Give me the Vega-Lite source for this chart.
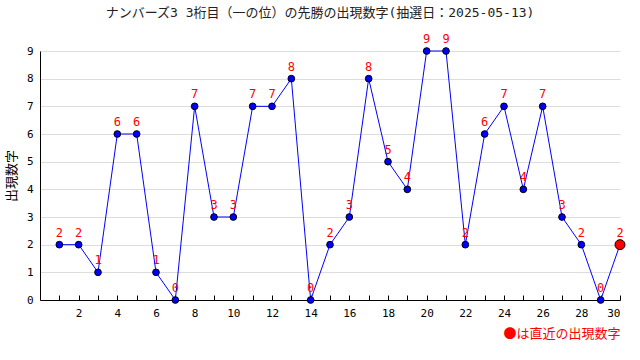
{
  "$schema": "https://vega.github.io/schema/vega-lite/v6.json",
  "width": 580,
  "height": 249,
  "autosize": "none",
  "padding": {"left": 40, "top": 51, "right": 20, "bottom": 60},
  "background": "white",
  "title": {
    "text": "ナンバーズ3 3桁目（一の位）の先勝の出現数字(抽選日：2025-05-13)",
    "font": "DejaVu Sans Mono, Noto Sans CJK JP",
    "fontSize": 13,
    "fontWeight": "normal",
    "color": "#222222",
    "anchor": "middle",
    "baseline": "bottom",
    "offset": 14,
    "dy": 14,
    "dx": -10
  },
  "data": {
    "values": [
      {"n": 1, "v": 2}, {"n": 2, "v": 2}, {"n": 3, "v": 1}, {"n": 4, "v": 6},
      {"n": 5, "v": 6}, {"n": 6, "v": 1}, {"n": 7, "v": 0}, {"n": 8, "v": 7},
      {"n": 9, "v": 3}, {"n": 10, "v": 3}, {"n": 11, "v": 7}, {"n": 12, "v": 7},
      {"n": 13, "v": 8}, {"n": 14, "v": 0}, {"n": 15, "v": 2}, {"n": 16, "v": 3},
      {"n": 17, "v": 8}, {"n": 18, "v": 5}, {"n": 19, "v": 4}, {"n": 20, "v": 9},
      {"n": 21, "v": 9}, {"n": 22, "v": 2}, {"n": 23, "v": 6}, {"n": 24, "v": 7},
      {"n": 25, "v": 4}, {"n": 26, "v": 7}, {"n": 27, "v": 3}, {"n": 28, "v": 2},
      {"n": 29, "v": 0}, {"n": 30, "v": 2}
    ]
  },
  "encoding": {
    "x": {
      "field": "n",
      "type": "quantitative",
      "scale": {"domain": [0, 30], "nice": false, "zero": false},
      "axis": {
        "values": [1,2,3,4,5,6,7,8,9,10,11,12,13,14,15,16,17,18,19,20,21,22,23,24,25,26,27,28,29,30],
        "labelExpr": "datum.value % 2 == 0 ? datum.label : ''",
        "grid": false,
        "tickSize": -5,
        "tickColor": "black",
        "domainColor": "black",
        "labelColor": "black",
        "labelFont": "DejaVu Sans Mono",
        "labelFontSize": 11,
        "labelPadding": 12,
        "title": "●は直近の出現数字",
        "titleColor": "#ff0000",
        "titleAnchor": "end",
        "titleFont": "Noto Sans CJK JP",
        "titleFontWeight": "normal",
        "titleFontSize": 13,
        "titlePadding": 9
      }
    },
    "y": {
      "field": "v",
      "type": "quantitative",
      "scale": {"domain": [0, 9], "nice": false},
      "axis": {
        "values": [0,1,2,3,4,5,6,7,8,9],
        "grid": true,
        "gridColor": "#dddddd",
        "tickSize": 0,
        "domainColor": "black",
        "labelColor": "black",
        "labelFont": "DejaVu Sans Mono",
        "labelFontSize": 11,
        "labelPadding": 7,
        "title": "出現数字",
        "titleColor": "black",
        "titleFont": "Noto Sans CJK JP",
        "titleFontWeight": "normal",
        "titleFontSize": 13,
        "titlePadding": 8
      }
    }
  },
  "layer": [
    {"mark": {"type": "line", "color": "#0000ff", "strokeWidth": 1}},
    {"mark": {"type": "point", "shape": "circle", "filled": true, "fill": "#0000ff", "stroke": "black", "strokeWidth": 1, "size": 45, "opacity": 1}},
    {
      "transform": [{"filter": "datum.n == 30"}],
      "mark": {"type": "point", "shape": "circle", "filled": true, "fill": "#ff0000", "stroke": "black", "strokeWidth": 1, "size": 100, "opacity": 1}
    },
    {
      "mark": {"type": "text", "dy": -12, "color": "#ff0000", "font": "DejaVu Sans Mono", "fontSize": 12},
      "encoding": {"text": {"field": "v", "type": "quantitative"}}
    }
  ],
  "config": {"view": {"stroke": null}}
}
